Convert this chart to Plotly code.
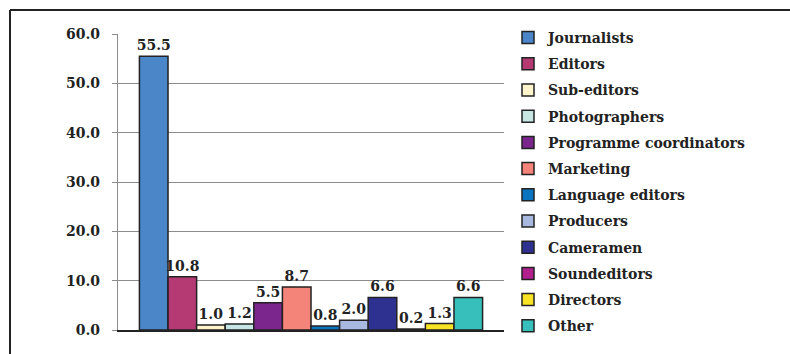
import plotly.graph_objects as go

categories = ["Journalists", "Editors", "Sub-editors", "Photographers",
              "Programme coordinators", "Marketing", "Language editors",
              "Producers", "Cameramen", "Soundeditors", "Directors", "Other"]
values = [55.5, 10.8, 1.0, 1.2, 5.5, 8.7, 0.8, 2.0, 6.6, 0.2, 1.3, 6.6]
colors = ["#4A86C8", "#B53A74", "#FFF4CC", "#C6E6E3", "#7A268C", "#F4837A",
          "#0A74C0", "#A9B8DE", "#2E3190", "#B21F8E", "#F8E425", "#37BFBB"]
y_ticks = [0, 10, 20, 30, 40, 50, 60]

FONT = "DejaVu Serif"
W, H = 790, 354
L, R_EDGE, T, B = 118, 504, 34, 330
plot_w = W - L
plot_h = B - T

fig = go.Figure()
for i, (c, v, col) in enumerate(zip(categories, values, colors)):
    fig.add_trace(go.Bar(
        name=c, x=[""], y=[v],
        marker=dict(color=col, line=dict(color="#222222", width=1.5)),
        texttemplate="%{y:.1f}", textposition="outside", constraintext="none",
        textfont=dict(family=FONT, size=14, color="#222222", weight="bold"),
        cliponaxis=False, legendgroup=f"g{i}",
    ))

def px_x(x):
    return (x - L) / plot_w

def px_y(y):
    return (B - y) / plot_h

fig.update_layout(
    width=W, height=H,
    margin=dict(l=L, r=0, t=T, b=H - B, pad=0, autoexpand=False),
    paper_bgcolor="white", plot_bgcolor="white",
    barmode="group", bargap=0.111, bargroupgap=0,
    font=dict(family=FONT, size=14, color="#222222", weight="bold"),
    showlegend=True,
    legend=dict(x=px_x(508), y=px_y(22), xanchor="left", yanchor="top",
                maxheight=340,
                font=dict(family=FONT, size=14, color="#222222", weight="bold"),
                tracegroupgap=5, bgcolor="rgba(0,0,0,0)"),
    xaxis=dict(domain=[0, px_x(R_EDGE)], showticklabels=False, showgrid=False,
               showline=True, linecolor="#222222", linewidth=1.5,
               ticks=""),
    yaxis=dict(range=[0, 60], tickvals=y_ticks, ticktext=[f"{t:.1f}" for t in y_ticks],
               showgrid=True, gridcolor="#8c8c8c", gridwidth=1.2,
               showline=True, linecolor="#8c8c8c", linewidth=1.2,
               ticks="outside", ticklen=5, tickcolor="#8c8c8c",
               ticklabelstandoff=9, zeroline=False,
               tickfont=dict(family=FONT, size=14, color="#222222", weight="bold")),
    shapes=[
        dict(type="line", xref="paper", yref="paper", x0=px_x(10), x1=px_x(790),
             y0=px_y(10), y1=px_y(10), line=dict(color="#222222", width=2)),
        dict(type="line", xref="paper", yref="paper", x0=px_x(10), x1=px_x(10),
             y0=px_y(10), y1=px_y(354), line=dict(color="#222222", width=2)),
    ],
)

fig.write_html("out.html", config={"displayModeBar": False},
               post_script="document.body.style.margin='0';document.body.style.overflow='hidden';")
